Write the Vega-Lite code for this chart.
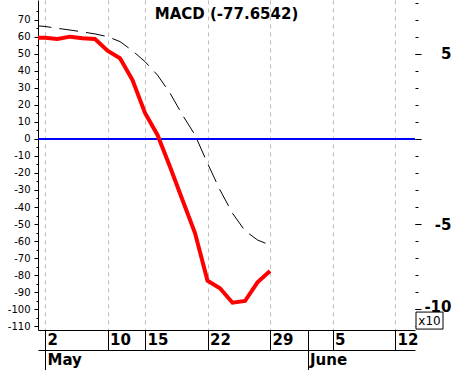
{
  "$schema": "https://vega.github.io/schema/vega-lite/v6.json",
  "width": 377,
  "height": 330,
  "autosize": {"type": "none"},
  "padding": {"left": 38, "top": 0, "right": 38, "bottom": 40},
  "background": "white",
  "config": {
    "view": {"stroke": null},
    "axis": {"domainColor": "black", "tickColor": "black", "labelColor": "black", "title": null}
  },
  "title": {
    "text": "MACD (-77.6542)",
    "font": "DejaVu Sans",
    "fontSize": 15,
    "fontWeight": "bold",
    "color": "black",
    "anchor": "middle",
    "baseline": "alphabetic",
    "offset": 0,
    "dy": 34
  },
  "data": {
    "values": [
      {"i": -1, "macd": 59.6, "signal": 66.8},
      {"i": 0, "macd": 59.6, "signal": 66.2},
      {"i": 1, "macd": 58.8, "signal": 65.1},
      {"i": 2, "macd": 60.2, "signal": 64.1},
      {"i": 3, "macd": 59.2, "signal": 63.0},
      {"i": 4, "macd": 58.8, "signal": 61.8},
      {"i": 5, "macd": 51.9, "signal": 60.2},
      {"i": 6, "macd": 47.5, "signal": 57.3},
      {"i": 7, "macd": 34.7, "signal": 51.9},
      {"i": 8, "macd": 15.3, "signal": 45.5},
      {"i": 9, "macd": 2.4, "signal": 37.6},
      {"i": 10, "macd": -16.3, "signal": 27.0},
      {"i": 11, "macd": -35.9, "signal": 14.1},
      {"i": 12, "macd": -55.3, "signal": 2.4},
      {"i": 13, "macd": -83.3, "signal": -14.3},
      {"i": 14, "macd": -87.8, "signal": -30.0},
      {"i": 15, "macd": -96.3, "signal": -43.7},
      {"i": 16, "macd": -95.3, "signal": -54.0},
      {"i": 17, "macd": -84.3, "signal": -59.4},
      {"i": 18, "macd": -77.6542, "signal": -62.4}
    ]
  },
  "layer": [
    {
      "data": {"values": [{"k": 0}]},
      "mark": {"type": "rule", "color": "#0000ff", "strokeWidth": 2},
      "encoding": {
        "y": {
          "datum": 0,
          "type": "quantitative",
          "scale": {"domain": [-112.35, 81.76], "nice": false, "zero": false},
          "axis": {
            "orient": "right",
            "values": [-110, -100, -90, -80, -70, -60, -50, -40, -30, -20, -10, 0, 10, 20, 30, 40, 50, 60, 70, 80],
            "labels": false,
            "domain": false,
            "grid": false,
            "tickSize": 3,
            "title": null
          }
        }
      }
    },
    {
      "mark": {"type": "line", "color": "black", "strokeWidth": 1, "strokeDash": [19, 8], "clip": true},
      "encoding": {
        "x": {
          "field": "i",
          "type": "quantitative",
          "scale": {"domain": [-0.56, 29.6], "nice": false, "zero": false},
          "axis": {
            "orient": "bottom",
            "values": [0, 5, 8, 13, 18, 21, 23, 28],
            "labelExpr": "datum.value == 0 ? '2' : datum.value == 5 ? '10' : datum.value == 8 ? '15' : datum.value == 13 ? '22' : datum.value == 18 ? '29' : datum.value == 23 ? '5' : datum.value == 28 ? '12' : ''",
            "grid": true,
            "gridColor": "#bdbdbd",
            "gridDash": [4, 4],
            "gridOpacity": {"condition": {"test": "datum.value == 21", "value": 0}, "value": 1},
            "tickSize": 20,
            "domain": true,
            "labelAlign": "left",
            "labelBaseline": "alphabetic",
            "labelPadding": -6,
            "labelOffset": 2,
            "labelFont": "DejaVu Sans",
            "labelFontSize": 15,
            "labelFontWeight": "bold",
            "labelOverlap": false,
            "labelBound": false,
            "labelFlush": false,
            "title": null
          }
        },
        "y": {
          "field": "signal",
          "type": "quantitative",
          "scale": {"domain": [-112.35, 81.76], "nice": false, "zero": false},
          "axis": {
            "orient": "left",
            "values": [-110, -105, -100, -95, -90, -85, -80, -75, -70, -65, -60, -55, -50, -45, -40, -35, -30, -25, -20, -15, -10, -5, 0, 5, 10, 15, 20, 25, 30, 35, 40, 45, 50, 55, 60, 65, 70, 75],
            "labelExpr": "datum.value % 10 == 0 ? '' + datum.value : ''",
            "tickSize": {"condition": {"test": "datum.value % 10 == 0", "value": 4}, "value": 2},
            "domain": true,
            "grid": false,
            "labelFont": "DejaVu Sans",
            "labelFontSize": 10,
            "labelPadding": 4,
            "labelBaseline": "middle",
            "labelOverlap": false,
            "labelBound": false,
            "labelFlush": false,
            "title": null
          }
        }
      }
    },
    {
      "mark": {"type": "line", "color": "#ff0000", "strokeWidth": 4, "clip": true},
      "encoding": {
        "x": {
          "field": "i",
          "type": "quantitative",
          "scale": {"domain": [-0.56, 29.6], "nice": false, "zero": false},
          "axis": {
            "orient": "bottom",
            "offset": 20,
            "values": [0, 21],
            "labelExpr": "datum.value == 0 ? 'May' : 'June'",
            "grid": false,
            "tickSize": 20,
            "domain": true,
            "labelAlign": "left",
            "labelBaseline": "alphabetic",
            "labelPadding": -6,
            "labelOffset": 2,
            "labelFont": "DejaVu Sans",
            "labelFontSize": 15,
            "labelFontWeight": "bold",
            "labelOverlap": false,
            "labelBound": false,
            "labelFlush": false,
            "title": null
          }
        },
        "y": {
          "field": "macd",
          "type": "quantitative",
          "scale": {"domain": [-112.35, 81.76], "nice": false, "zero": false},
          "axis": {
            "orient": "right",
            "values": [50, 0, -50, -100],
            "labelExpr": "datum.value == 0 ? '' : '' + (datum.value / 10)",
            "tickSize": 6,
            "domain": false,
            "grid": false,
            "labelAlign": "right",
            "labelBaseline": "middle",
            "labelOffset": {"condition": {"test": "datum.value == -100", "value": -3}, "value": 0},
            "labelPadding": 30,
            "labelFont": "DejaVu Sans",
            "labelFontSize": 15,
            "labelFontWeight": "bold",
            "labelOverlap": false,
            "labelBound": false,
            "labelFlush": false,
            "title": null
          }
        }
      }
    },
    {
      "data": {"values": [{"k": 0}]},
      "mark": {"type": "rect", "fill": "white", "stroke": "black", "strokeWidth": 1},
      "encoding": {
        "x": {"datum": 29.68, "type": "quantitative", "scale": {"domain": [-0.56, 29.6], "nice": false, "zero": false}, "axis": null},
        "x2": {"datum": 31.84},
        "y": {"datum": -101.8, "type": "quantitative", "scale": {"domain": [-112.35, 81.76], "nice": false, "zero": false}, "axis": null},
        "y2": {"datum": -111.8}
      }
    },
    {
      "data": {"values": [{"k": 0}]},
      "mark": {"type": "text", "text": "x10", "font": "DejaVu Sans", "fontSize": 12, "color": "black", "align": "center", "baseline": "middle"},
      "encoding": {
        "x": {"datum": 30.76, "type": "quantitative", "scale": {"domain": [-0.56, 29.6], "nice": false, "zero": false}, "axis": null},
        "y": {"datum": -106.8, "type": "quantitative", "scale": {"domain": [-112.35, 81.76], "nice": false, "zero": false}, "axis": null}
      }
    }
  ],
  "resolve": {"axis": {"x": "independent", "y": "independent"}}
}
